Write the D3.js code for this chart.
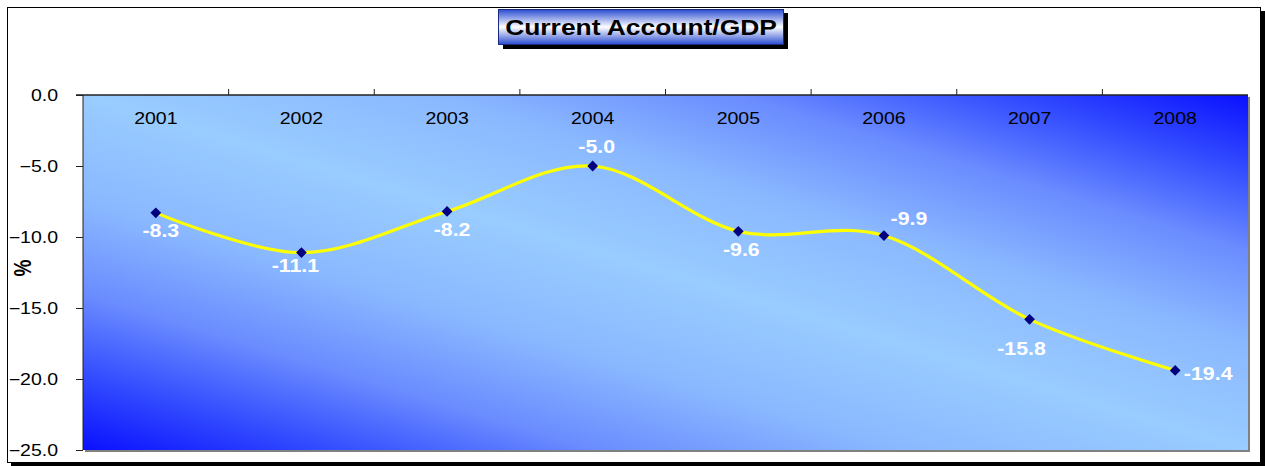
<!doctype html>
<html>
<head>
<meta charset="utf-8">
<title>Current Account/GDP</title>
<style>
  body { margin: 0; background: #fff; }
  text { font-family: "Liberation Sans", Arial, sans-serif; }
</style>
</head>
<body>
<svg width="1265" height="466"></svg>
<script src="https://cdnjs.cloudflare.com/ajax/libs/d3/7.8.5/d3.min.js"></script>
<script>
var years = ["2001", "2002", "2003", "2004", "2005", "2006", "2007", "2008"];
var values = [-8.3, -11.1, -8.2, -5.0, -9.6, -9.9, -15.8, -19.4];
var yTicks = [0, -5, -10, -15, -20, -25];

// label offsets (dx, dy) relative to each point
var labelPos = [[5, 24], [-6, 19], [5, 25], [4, -13], [3, 25], [25, -11], [-8, 36], [33, 10]];

var svg = d3.select("svg");
var margin = {left: 83, top: 95, right: 1248, bottom: 450};
var sx = 1.22; // text is drawn a bit wide in the original

var defs = svg.append("defs");

var bg = defs.append("linearGradient").attr("id", "bg")
    .attr("x1", 0).attr("y1", 1).attr("x2", 1).attr("y2", 0);
[["0%", "#0a10ff"], ["10%", "#3048ff"], ["22%", "#6a8cff"], ["35%", "#8ab8ff"], ["50%", "#99ccff"],
 ["65%", "#8ab8ff"], ["78%", "#6a8cff"], ["90%", "#3048ff"], ["100%", "#0a10ff"]].forEach(function(s) {
  bg.append("stop").attr("offset", s[0]).attr("stop-color", s[1]);
});

var tg = defs.append("linearGradient").attr("id", "tg")
    .attr("x1", 0).attr("y1", 0).attr("x2", 0).attr("y2", 1);
tg.append("stop").attr("offset", "0%").attr("stop-color", "#2a4cd0");
tg.append("stop").attr("offset", "50%").attr("stop-color", "#ffffff");
tg.append("stop").attr("offset", "100%").attr("stop-color", "#2a4cd0");

// outer frame with shadow
svg.append("rect").attr("x", 11).attr("y", 11).attr("width", 1254).attr("height", 455).attr("fill", "#000");
svg.append("rect").attr("x", 7.5).attr("y", 7.5).attr("width", 1253).attr("height", 455)
    .attr("fill", "#fff").attr("stroke", "#000").attr("stroke-width", 1);

var x = d3.scaleBand().domain(years).range([margin.left, margin.right]);
var y = d3.scaleLinear().domain([-25, 0]).range([margin.bottom, margin.top]);

function wideText(sel, px, py) {
  return sel.attr("transform", function(d, i) {
    return "translate(" + px(d, i) + "," + py(d, i) + ") scale(" + sx + ",1)";
  });
}

// plot area
svg.append("rect").attr("x", margin.left + 2).attr("y", margin.top + 2)
    .attr("width", margin.right - margin.left).attr("height", margin.bottom - margin.top)
    .attr("fill", "#808080");
svg.append("rect").attr("x", margin.left).attr("y", margin.top)
    .attr("width", margin.right - margin.left).attr("height", margin.bottom - margin.top)
    .attr("fill", "url(#bg)");

// y axis
var yAxis = d3.axisLeft(y).tickValues(yTicks).tickSize(7).tickFormat("");
var gy = svg.append("g").attr("transform", "translate(" + margin.left + ",0)").call(yAxis);
gy.selectAll("line, path").attr("stroke", "#222");
gy.select(".domain").attr("d", "M0," + margin.bottom + "V" + margin.top);
wideText(svg.selectAll(".ylbl").data(yTicks).enter().append("text"),
    function() { return margin.left - 25; }, function(d) { return y(d) + 5.5; })
    .attr("text-anchor", "end").attr("font-size", 16)
    .text(function(d) { return d3.format(".1f")(d); });

// top x axis at 0
var gx = svg.append("g");
gx.append("line").attr("x1", margin.left - 7).attr("x2", margin.right)
    .attr("y1", y(0)).attr("y2", y(0)).attr("stroke", "#222").attr("stroke-width", 1.3);
gx.selectAll(".tk").data(years.slice(1)).enter().append("line")
    .attr("x1", function(d) { return x(d); }).attr("x2", function(d) { return x(d); })
    .attr("y1", y(0)).attr("y2", y(0) - 6).attr("stroke", "#222");
wideText(gx.selectAll(".lbl").data(years).enter().append("text"),
    function(d) { return x(d) + x.bandwidth() / 2; }, function() { return y(0) + 29; })
    .attr("text-anchor", "middle").attr("font-size", 16)
    .text(function(d) { return d; });

// y axis title
svg.append("text").attr("transform", "translate(31,268) rotate(-90) scale(1," + sx + ")")
    .attr("text-anchor", "middle").attr("font-size", 19).attr("font-weight", "bold").text("%");

// line
var pts = values.map(function(v, i) { return [x(years[i]) + x.bandwidth() / 2, y(v)]; });
var line = d3.line().curve(d3.curveCardinal.tension(0));
svg.append("path").attr("d", line(pts)).attr("fill", "none")
    .attr("stroke", "#ffff00").attr("stroke-width", 3.2);

svg.selectAll(".pt").data(pts).enter().append("path")
    .attr("transform", function(d) { return "translate(" + d[0] + "," + d[1] + ") rotate(45)"; })
    .attr("d", d3.symbol().type(d3.symbolSquare).size(58))
    .attr("fill", "#000080");

wideText(svg.selectAll(".vl").data(values).enter().append("text"),
    function(d, i) { return pts[i][0] + labelPos[i][0]; },
    function(d, i) { return pts[i][1] + labelPos[i][1]; })
    .attr("text-anchor", "middle").attr("font-size", 17.5).attr("font-weight", "bold")
    .attr("fill", "#fff").text(function(d) { return d.toFixed(1); });

// title box
var tb = svg.append("g");
tb.append("rect").attr("x", 503).attr("y", 13).attr("width", 285).attr("height", 36).attr("fill", "#000");
tb.append("rect").attr("x", 498.5).attr("y", 9.5).attr("width", 285).attr("height", 35)
    .attr("fill", "url(#tg)").attr("stroke", "#1a2a80").attr("stroke-width", 1);
tb.append("text").attr("transform", "translate(641,35) scale(1.2,1)").attr("text-anchor", "middle")
    .attr("font-size", 22).attr("font-weight", "bold").text("Current Account/GDP");
</script>
</body>
</html>
